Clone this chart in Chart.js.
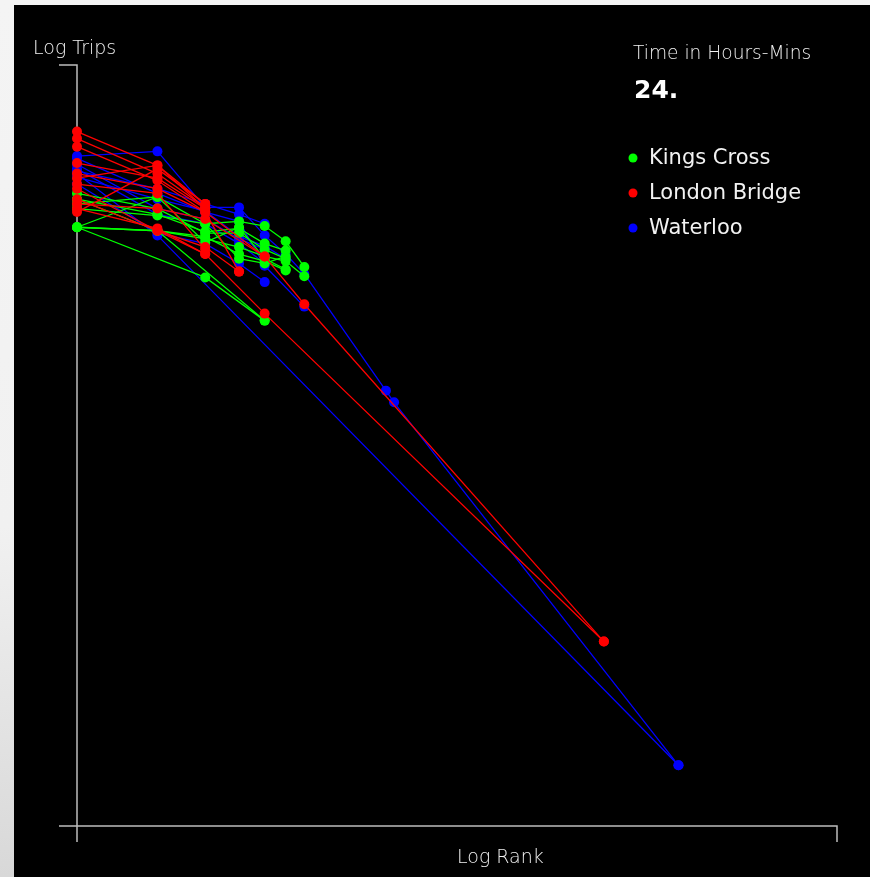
<!DOCTYPE html>
<html><head><meta charset="utf-8">
<script src="https://cdn.jsdelivr.net/npm/chart.js@4"></script>
<style>
html,body{margin:0;padding:0;width:870px;height:877px;overflow:hidden;background:linear-gradient(#f4f4f4,#f1f1f1 60%,#d8d8d8);}
#wrap{position:absolute;left:14px;top:5px;width:856px;height:872px;background:#000;}
canvas{display:block;}
</style></head><body>
<div id="wrap"><canvas id="c" width="856" height="872"></canvas></div>
<script>
// Log rank positions (ln of rank) shared by all series
const logRank = [0, 0.69, 1.10, 1.39, 1.61, 1.79, 1.95, 2.65, 2.72, 4.52, 5.16];
const stations = ['Kings Cross', 'London Bridge', 'Waterloo'];
const stationColors = ['#00ff00', '#ff0000', '#0000ff'];
const timeLabel = 'Time in Hours-Mins';
const timeValue = '24.';
const xTitle = 'Log Rank';
const yTitle = 'Log Trips';
const axisMax = 6.52;

// Log trips per rank position (null = no point at that rank)
const kingsCross = [
  [5.13, 5.39, 5.16, 5.18, 5.14, 5.01, 4.79],
  [5.13, 5.10, 5.03, 4.96, 4.88, 4.84, 4.71],
  [5.13, null, 4.70, null, 4.33],
  [5.37, 5.10, null, null, 4.33],
  [5.37, 5.24, 5.09, 5.12, 4.99, 4.93],
  [5.42, 5.29, 5.08, 5.08, 4.94, 4.86],
  [5.33, 5.39, 5.00, 5.13, 4.86, 4.77],
  [5.29, 5.23, 5.16, 4.86, 4.82, 4.88],
  [5.13, 5.10, 5.05, 4.90, 4.84, 4.76]
];
const londonBridge = [
  [5.95, 5.66, 5.33],
  [5.89, 5.59, 5.30],
  [5.82, 5.53, 5.26, null, 4.88],
  [5.68, 5.55, 5.29],
  [5.59, 5.46, 5.26, 4.75],
  [5.50, 5.42, 4.94],
  [5.46, 5.10, 4.96, 4.75],
  [5.37, 5.10, 4.90, null, 4.39, null, null, null, null, 1.58],
  [5.33, 5.29, 5.20, null, 4.88, null, 4.47, null, null, 1.58],
  [5.26, 5.63, 5.33],
  [5.55, 5.66, 5.29],
  [5.29, 5.12, 4.90]
];
const waterloo = [
  [5.74, 5.78, 5.30, 5.30, 5.06, 4.90, 4.73, 3.73, 3.63, null, 0.52],
  [5.61, 5.46, 5.33, 5.24, 5.16],
  [5.72, 5.42, 5.26, 5.18, 4.80, null, 4.45],
  [5.67, 5.29, 5.20, 5.03, 4.94],
  [5.63, 5.24, 5.16, 4.99, 4.82],
  [5.59, 5.06, null, null, null, null, null, null, null, null, 0.52],
  [5.50, 5.08, 4.99, 4.82, 4.66],
  [5.56, 5.37, 5.27, 5.05, 4.97, 4.86]
];

function toDatasets(seriesList, color) {
  return seriesList.map(ys => ({
    data: ys.map((y, i) => y === null ? null : {x: logRank[i], y: y}).filter(p => p !== null),
    borderColor: color,
    backgroundColor: color,
    borderWidth: 1.3,
    pointRadius: 5,
    pointBorderWidth: 0,
    pointHoverRadius: 5,
    tension: 0,
    showLine: true,
    clip: false
  }));
}

const datasets = [
  ...toDatasets(londonBridge, stationColors[1]),
  ...toDatasets(kingsCross, stationColors[0]),
  ...toDatasets(waterloo, stationColors[2])
];

const decor = {
  id: 'decor',
  beforeDatasetsDraw(chart) {
    const {ctx, chartArea: a} = chart;
    ctx.save();
    ctx.strokeStyle = '#bdbdbd';
    ctx.lineWidth = 1.5;
    ctx.beginPath();
    ctx.moveTo(a.left - 18, a.top); ctx.lineTo(a.left, a.top); ctx.lineTo(a.left, a.bottom + 16);
    ctx.moveTo(a.left - 18, a.bottom); ctx.lineTo(a.right, a.bottom); ctx.lineTo(a.right, a.bottom + 16);
    ctx.stroke();
    ctx.restore();
  },
  afterDraw(chart) {
    const {ctx, chartArea: a} = chart;
    ctx.save();
    ctx.fillStyle = '#f0f0f0';
    ctx.textAlign = 'left';
    ctx.textBaseline = 'alphabetic';
    ctx.font = '200 19px "DejaVu Sans"';
    ctx.fillText(yTitle, a.left - 44, a.top - 11);
    ctx.fillText(xTitle, a.left + 380, a.bottom + 37);
    ctx.font = '200 18.6px "DejaVu Sans"';
    ctx.fillText(timeLabel, a.right - 204, a.top - 6);
    ctx.font = 'bold 25px "DejaVu Sans"';
    ctx.fillStyle = '#ffffff';
    ctx.fillText(timeValue, a.right - 203, a.top + 33);
    ctx.font = '21px "DejaVu Sans"';
    ctx.textBaseline = 'middle';
    stations.forEach((s, i) => {
      const y = a.top + 93 + i * 35;
      ctx.fillStyle = stationColors[i];
      ctx.beginPath();
      ctx.arc(a.right - 204, y, 4.5, 0, Math.PI * 2);
      ctx.fill();
      ctx.fillStyle = '#f2f2f2';
      ctx.fillText(s, a.right - 188, y + 1);
    });
    ctx.restore();
  }
};

new Chart(document.getElementById('c'), {
  type: 'scatter',
  data: {datasets},
  options: {
    responsive: false,
    animation: false,
    layout: {padding: {left: 63, top: 60, right: 33, bottom: 51}},
    plugins: {legend: {display: false}, tooltip: {enabled: false}},
    scales: {
      x: {type: 'linear', min: 0, max: axisMax, display: false},
      y: {type: 'linear', min: 0, max: axisMax, display: false}
    },
    elements: {line: {spanGaps: true}}
  },
  plugins: [decor]
});
</script>
</body></html>
